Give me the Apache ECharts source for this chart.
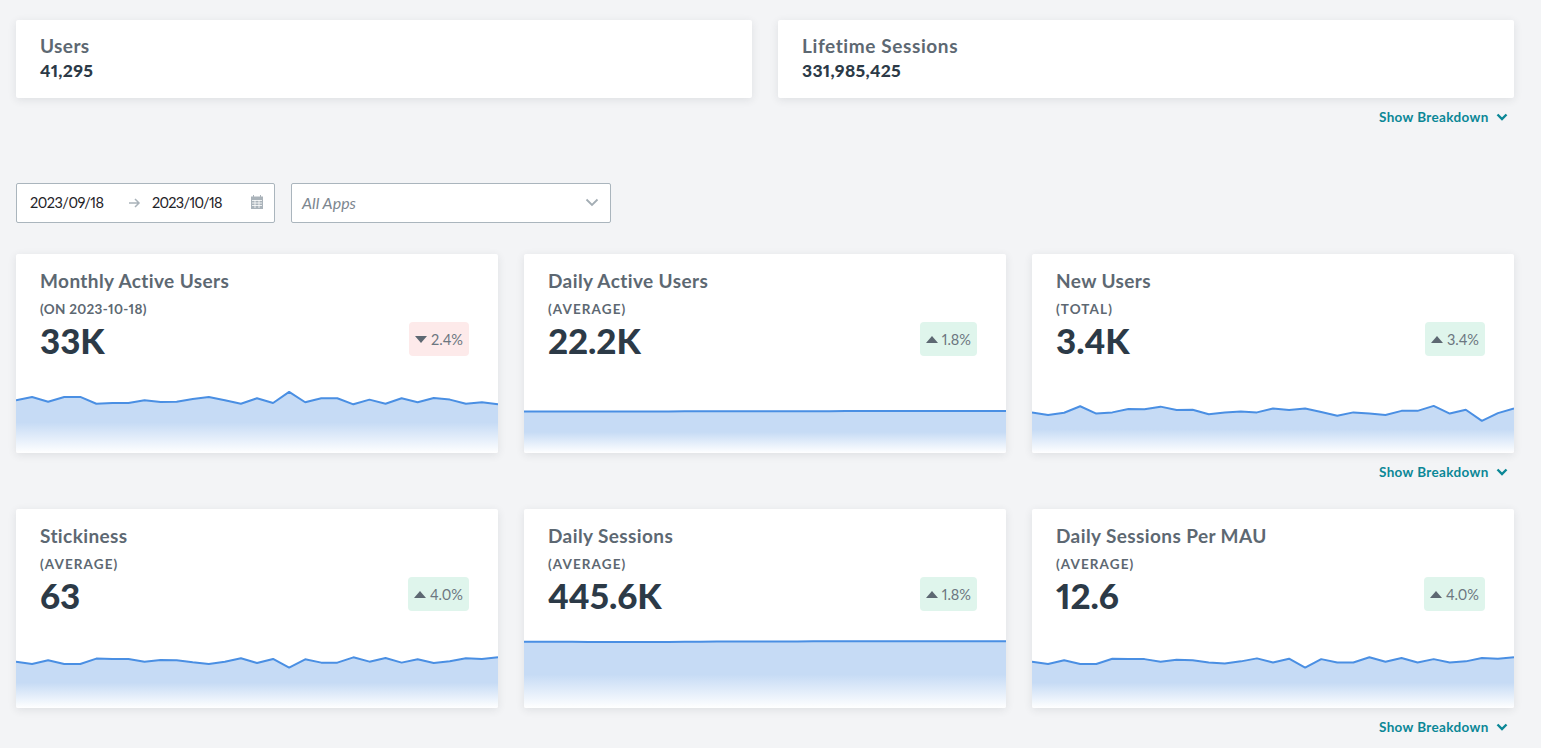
<!DOCTYPE html>
<html>
<head>
<meta charset="utf-8">
<title>Overview</title>
<script src="https://cdn.jsdelivr.net/npm/echarts@6/dist/echarts.min.js"></script>
<style>
html,body{margin:0;padding:0;background:#f3f4f6;overflow:hidden}
body{width:1541px;height:748px;position:relative;font-family:Lato,"Open Sans",sans-serif;font-variant-numeric:proportional-nums;color:#5d6872}
.card{position:absolute;background:#fff;border-radius:2px;box-shadow:0 2px 8px rgba(40,50,60,.10);overflow:hidden}
.kpi{width:736px;height:78px;top:20px}
.metric{width:482px;height:199px}
.name{position:absolute;left:24px;font-weight:700;font-size:19px;line-height:24px;letter-spacing:.4px;color:#5d6872;white-space:nowrap}
.kpi .name{top:14px}
.kpi .num{position:absolute;left:24px;top:39px;font-weight:900;font-size:17.5px;line-height:24px;letter-spacing:.3px;color:#2c3a47}
.metric .name{top:15px}
.sub{position:absolute;left:24px;top:46px;font-weight:700;font-size:13.5px;line-height:18px;letter-spacing:1.1px;color:#5d6872}
.big{position:absolute;left:24px;top:64px;font-weight:900;font-size:35px;line-height:44px;letter-spacing:-.1px;color:#2c3a47}
.delta{position:absolute;top:68px;right:29px;height:34px;border-radius:4px;padding:0 6px 0 6px;display:flex;align-items:center;font-size:14.5px;color:#6c7680}
.delta.up{background:#dff5ec}
.delta.down{background:#fdeaea}
.delta i{display:block;width:0;height:0;margin-right:4px;border-left:6px solid transparent;border-right:6px solid transparent}
.delta.up i{border-bottom:7px solid #5d6872}
.delta.down i{border-top:7px solid #5d6872}
.spark{position:absolute;left:0;bottom:0;width:482px;height:100px}
.link{position:absolute;left:1379px;font-weight:700;font-size:13.5px;line-height:18px;letter-spacing:.35px;color:#0b8796;white-space:nowrap}
.link svg{position:absolute;left:117px;top:4px}
.box{position:absolute;top:183px;height:38px;background:#fff;border:1px solid #aab5bd;border-radius:2px;font-size:14.5px;line-height:38px}
.box span{position:absolute;white-space:nowrap}
.box svg{position:absolute}
</style>
</head>
<body>

<div class="card kpi" style="left:16px"><div class="name">Users</div><div class="num">41,295</div></div>
<div class="card kpi" style="left:778px"><div class="name" style="letter-spacing:.6px">Lifetime Sessions</div><div class="num">331,985,425</div></div>
<div class="link" style="top:108px">Show Breakdown<svg width="12" height="10" viewBox="0 0 12 10"><path d="M1.5 2.5L6 7L10.5 2.5" fill="none" stroke="#0b8796" stroke-width="2.4"/></svg></div>

<div class="box" style="left:16px;width:257px;color:#1f2328">
  <span style="left:13px;letter-spacing:-.5px">2023/09/18</span>
  <svg style="left:111px;top:13px" width="13" height="12" viewBox="0 0 13 12"><path d="M1 6H11M7 2L11 6L7 10" fill="none" stroke="#a9b2b9" stroke-width="1.5"/></svg>
  <span style="left:135px;letter-spacing:-.7px">2023/10/18</span>
  <svg style="left:234px;top:11px" width="12" height="14" viewBox="0 0 12 14"><path d="M0 2H12V14H0Z M2.5 0V3 M9.5 0V3" fill="#aab3ba" stroke="#aab3ba"/><path d="M1 5.5H11M1 8H11M1 10.5H11M4 5V13M8 5V13" stroke="#fff" stroke-width=".8"/></svg>
</div>
<div class="box" style="left:291px;width:318px;color:#7c868f;font-style:italic;font-size:16px">
  <span style="left:10px">All Apps</span>
  <svg style="left:293px;top:14px" width="14" height="10" viewBox="0 0 14 10"><path d="M1.5 1.5L7 7L12.5 1.5" fill="none" stroke="#a3adb4" stroke-width="1.8"/></svg>
</div>

<div class="card metric" style="left:16px;top:254px"><div class="name">Monthly Active Users</div><div class="sub" style="letter-spacing:.3px">(ON 2023-10-18)</div><div class="big">33K</div><div class="delta down"><i></i>2.4%</div><div class="spark" id="mau"></div></div>
<div class="card metric" style="left:524px;top:254px"><div class="name">Daily Active Users</div><div class="sub">(AVERAGE)</div><div class="big">22.2K</div><div class="delta up"><i></i>1.8%</div><div class="spark" id="dau"></div></div>
<div class="card metric" style="left:1032px;top:254px"><div class="name">New Users</div><div class="sub">(TOTAL)</div><div class="big">3.4K</div><div class="delta up"><i></i>3.4%</div><div class="spark" id="newUsers"></div></div>
<div class="link" style="top:463px">Show Breakdown<svg width="12" height="10" viewBox="0 0 12 10"><path d="M1.5 2.5L6 7L10.5 2.5" fill="none" stroke="#0b8796" stroke-width="2.4"/></svg></div>

<div class="card metric" style="left:16px;top:509px"><div class="name">Stickiness</div><div class="sub">(AVERAGE)</div><div class="big">63</div><div class="delta up"><i></i>4.0%</div><div class="spark" id="stickiness"></div></div>
<div class="card metric" style="left:524px;top:509px"><div class="name">Daily Sessions</div><div class="sub">(AVERAGE)</div><div class="big">445.6K</div><div class="delta up"><i></i>1.8%</div><div class="spark" id="sessions"></div></div>
<div class="card metric" style="left:1032px;top:509px"><div class="name">Daily Sessions Per MAU</div><div class="sub">(AVERAGE)</div><div class="big">12.6</div><div class="delta up"><i></i>4.0%</div><div class="spark" id="perMau"></div></div>
<div class="link" style="top:718px">Show Breakdown<svg width="12" height="10" viewBox="0 0 12 10"><path d="M1.5 2.5L6 7L10.5 2.5" fill="none" stroke="#0b8796" stroke-width="2.4"/></svg></div>

<script>
var days = ['09-18','09-19','09-20','09-21','09-22','09-23','09-24','09-25','09-26','09-27','09-28','09-29','09-30','10-01','10-02','10-03','10-04','10-05','10-06','10-07','10-08','10-09','10-10','10-11','10-12','10-13','10-14','10-15','10-16','10-17','10-18'];

// thousands
var mauValues = [35.7,38.0,34.8,38.0,38.0,33.4,33.9,33.9,35.7,34.6,34.8,36.6,38.0,35.7,33.4,37.1,33.9,41.4,34.4,37.1,37.1,33.0,36.2,33.4,37.1,34.4,37.3,36.2,33.4,34.4,33.0];
var dauValues = [22.1,22.1,22.1,22.1,22.1,22.1,22.1,22.1,22.1,22.1,22.2,22.2,22.2,22.2,22.2,22.2,22.2,22.2,22.2,22.2,22.3,22.3,22.3,22.3,22.3,22.3,22.3,22.3,22.3,22.3,22.3];
var newUserValues = [106,99,105,122,103,106,115,114,121,112,113,101,106,108,106,116,112,116,107,97,106,103,99,110,110,123,103,113,84,104,116];
var stickinessValues = [62.1,59,63.9,59,59,66.2,65.7,65.7,62.1,64.4,63.9,61.2,59,62.1,66.6,60.3,65.7,54.1,65.3,60.8,60.8,67.9,62.1,67,60.8,65.3,60.3,62.6,66.6,65.7,67.9];
var sessionValues = [443.3,443.5,443.6,443.4,443.0,442.8,442.5,442.6,442.8,443.0,443.6,444.3,444.8,445.0,445.6,445.9,446.2,446.0,446.6,447.0,447.5,447.6,447.4,447.5,447.4,447.3,447.5,447.6,447.8,448.0,447.9];
var perMauValues = [12.4,11.8,12.8,11.8,11.8,13.2,13.1,13.1,12.4,12.9,12.8,12.2,11.9,12.5,13.3,12.2,13.2,10.8,13.1,12.2,12.2,13.6,12.4,13.4,12.2,13.1,12.2,12.5,13.4,13.2,13.6];

function sparkline(id, values, yMax){
	var chart = echarts.init(document.getElementById(id));
	chart.setOption({
		animation:false,
		grid:{left:0,right:0,top:0,bottom:0},
		xAxis:{type:'category',data:days,boundaryGap:false,show:false},
		yAxis:{type:'value',min:0,max:yMax,show:false},
		series:[{
			type:'line',
			data:values,
			showSymbol:false,
			lineStyle:{color:'#4a8fe3',width:2},
			areaStyle:{
				opacity:1,
				color:new echarts.graphic.LinearGradient(0,0,0,1,[
					{offset:0,color:'#c6dbf5'},
					{offset:0.5,color:'#c6dbf5'},
					{offset:1,color:'#ffffff'}
				])
			}
		}]
	});
}

sparkline('mau', mauValues, 67.8);
sparkline('dau', dauValues, 53.2);
sparkline('newUsers', newUserValues, 261);
sparkline('stickiness', stickinessValues, 134);
sparkline('sessions', sessionValues, 670);
sparkline('perMau', perMauValues, 26.8);
</script>
</body>
</html>
